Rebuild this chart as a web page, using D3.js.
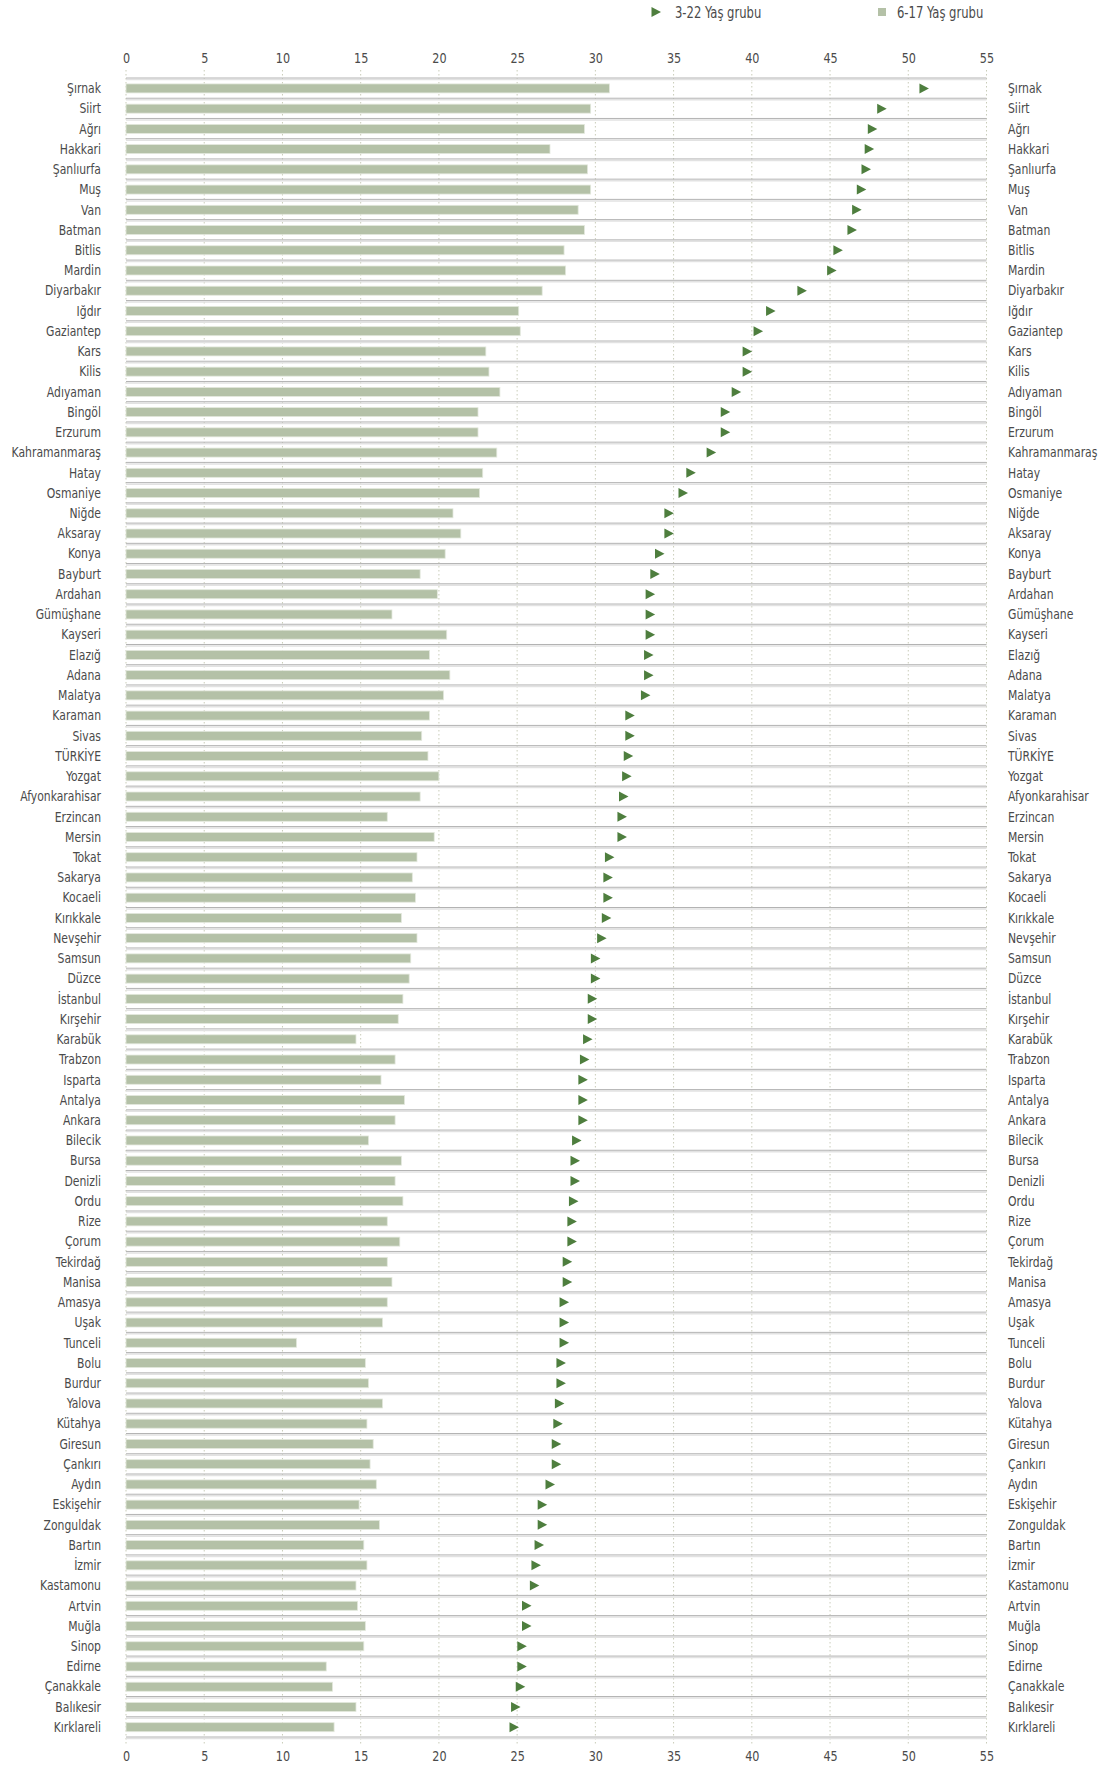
<!DOCTYPE html>
<html><head><meta charset="utf-8">
<script src="https://cdn.jsdelivr.net/npm/d3@7"></script>
<style>
body{margin:0;background:#fff;}
svg text{font-family:"DejaVu Sans Condensed","Liberation Sans Narrow","Roboto",sans-serif;fill:#4a4a4a;}
</style></head>
<body>
<svg id="chart" width="1104" height="1766"></svg>
<script>
const provinces = ["Şırnak","Siirt","Ağrı","Hakkari","Şanlıurfa","Muş","Van","Batman","Bitlis","Mardin","Diyarbakır","Iğdır","Gaziantep","Kars","Kilis","Adıyaman","Bingöl","Erzurum","Kahramanmaraş","Hatay","Osmaniye","Niğde","Aksaray","Konya","Bayburt","Ardahan","Gümüşhane","Kayseri","Elazığ","Adana","Malatya","Karaman","Sivas","TÜRKİYE","Yozgat","Afyonkarahisar","Erzincan","Mersin","Tokat","Sakarya","Kocaeli","Kırıkkale","Nevşehir","Samsun","Düzce","İstanbul","Kırşehir","Karabük","Trabzon","Isparta","Antalya","Ankara","Bilecik","Bursa","Denizli","Ordu","Rize","Çorum","Tekirdağ","Manisa","Amasya","Uşak","Tunceli","Bolu","Burdur","Yalova","Kütahya","Giresun","Çankırı","Aydın","Eskişehir","Zonguldak","Bartın","İzmir","Kastamonu","Artvin","Muğla","Sinop","Edirne","Çanakkale","Balıkesir","Kırklareli"];

// 6-17 Yaş grubu (bars)
const age6to17 = [30.9,29.7,29.3,27.1,29.5,29.7,28.9,29.3,28.0,28.1,26.6,25.1,25.2,23.0,23.2,23.9,22.5,22.5,23.7,22.8,22.6,20.9,21.4,20.4,18.8,19.9,17.0,20.5,19.4,20.7,20.3,19.4,18.9,19.3,20.0,18.8,16.7,19.7,18.6,18.3,18.5,17.6,18.6,18.2,18.1,17.7,17.4,14.7,17.2,16.3,17.8,17.2,15.5,17.6,17.2,17.7,16.7,17.5,16.7,17.0,16.7,16.4,10.9,15.3,15.5,16.4,15.4,15.8,15.6,16.0,14.9,16.2,15.2,15.4,14.7,14.8,15.3,15.2,12.8,13.2,14.7,13.3];

// 3-22 Yaş grubu (triangles)
const age3to22 = [51.0,48.3,47.7,47.5,47.3,47.0,46.7,46.4,45.5,45.1,43.2,41.2,40.4,39.7,39.7,39.0,38.3,38.3,37.4,36.1,35.6,34.7,34.7,34.1,33.8,33.5,33.5,33.5,33.4,33.4,33.2,32.2,32.2,32.1,32.0,31.8,31.7,31.7,30.9,30.8,30.8,30.7,30.4,30.0,30.0,29.8,29.8,29.5,29.3,29.2,29.2,29.2,28.8,28.7,28.7,28.6,28.5,28.5,28.2,28.2,28.0,28.0,28.0,27.8,27.8,27.7,27.6,27.5,27.5,27.1,26.6,26.6,26.4,26.2,26.1,25.6,25.6,25.3,25.3,25.2,24.9,24.8];

const xTicks = [0,5,10,15,20,25,30,35,40,45,50,55];
const legendLabels = ["3-22 Yaş grubu","6-17 Yaş grubu"];

const svg = d3.select("#chart");
const x = d3.scaleLinear().domain([0,55]).range([126,986.5]);
const y = d3.scaleBand().domain(provinces).range([78,1737]).padding(0);

const barColor = "#b4c1a7", triColor = "#4e7e3e";
const SX = 0.86;

// gridlines (dotted)
svg.append("g").selectAll("line").data(xTicks).join("line")
  .attr("x1", d=>x(d)).attr("x2", d=>x(d))
  .attr("y1", 70).attr("y2", 1745)
  .attr("stroke", "#c9ccb9").attr("stroke-width", 1)
  .attr("stroke-dasharray", "1.5,2.5");

// row separators
const seps = provinces.map((p,i)=>y(p)).concat([y.range()[1]]);
const sepG = svg.append("g");
sepG.selectAll("line.l").data(seps).join("line").attr("class","l")
  .attr("x1", x(0)).attr("x2", x(55))
  .attr("y1", d=>d+1.5).attr("y2", d=>d+1.5)
  .attr("stroke", "#e2e2e2").attr("stroke-width", 1.5);
sepG.selectAll("line.d").data(seps).join("line").attr("class","d")
  .attr("x1", x(0)).attr("x2", x(55))
  .attr("y1", d=>d).attr("y2", d=>d)
  .attr("stroke", "#b3b3b3").attr("stroke-width", 1);

// bars
const bh = 9;
svg.append("g").selectAll("rect").data(provinces).join("rect")
  .attr("x", x(0))
  .attr("y", d=>y(d)+y.bandwidth()/2 - bh/2 + 0.3)
  .attr("width", (d,i)=>x(age6to17[i]) - x(0))
  .attr("height", bh)
  .attr("fill", barColor)
  .attr("stroke", "#e3e8dd").attr("stroke-width", 0.8);

// triangles
const tri = "M-4.5,-5 L5,0 L-4.5,5 Z";
svg.append("g").selectAll("path").data(provinces).join("path")
  .attr("d", tri)
  .attr("transform", (d,i)=>`translate(${x(age3to22[i])},${y(d)+y.bandwidth()/2+0.3})`)
  .attr("fill", triColor);

// left & right labels
svg.append("g").selectAll("text").data(provinces).join("text")
  .attr("transform", d=>`translate(101,${y(d)+y.bandwidth()/2}) scale(${SX},1)`)
  .attr("dy", "0.36em").attr("text-anchor","end")
  .attr("font-size", 14).text(d=>d);
svg.append("g").selectAll("text").data(provinces).join("text")
  .attr("transform", d=>`translate(1008,${y(d)+y.bandwidth()/2}) scale(${SX},1)`)
  .attr("dy", "0.36em").attr("text-anchor","start")
  .attr("font-size", 14).text(d=>d);

// axes
const axTop = svg.append("g").attr("transform","translate(0,63)")
  .call(d3.axisTop(x).tickValues(xTicks).tickSize(0).tickPadding(0));
const axBot = svg.append("g").attr("transform","translate(0,1751)")
  .call(d3.axisBottom(x).tickValues(xTicks).tickSize(0).tickPadding(0));
[axTop,axBot].forEach(g=>{
  g.select(".domain").remove();
  g.selectAll("text").attr("font-size",14.5)
    .attr("transform",`scale(${SX},1)`)
    .style("font-family",'"DejaVu Sans Condensed","Liberation Sans Narrow",sans-serif')
    .attr("fill","#555");
});

// legend
const lg = svg.append("g");
lg.append("path").attr("d", tri).attr("transform","translate(656,12)").attr("fill", triColor);
lg.append("text").attr("transform",`translate(675,13) scale(${SX},1)`).attr("dy","0.36em").attr("font-size",15).text(legendLabels[0]);
lg.append("rect").attr("x",878).attr("y",8).attr("width",8).attr("height",8).attr("fill",barColor);
lg.append("text").attr("transform",`translate(897,13) scale(${SX},1)`).attr("dy","0.36em").attr("font-size",15).text(legendLabels[1]);
</script>
</body></html>
